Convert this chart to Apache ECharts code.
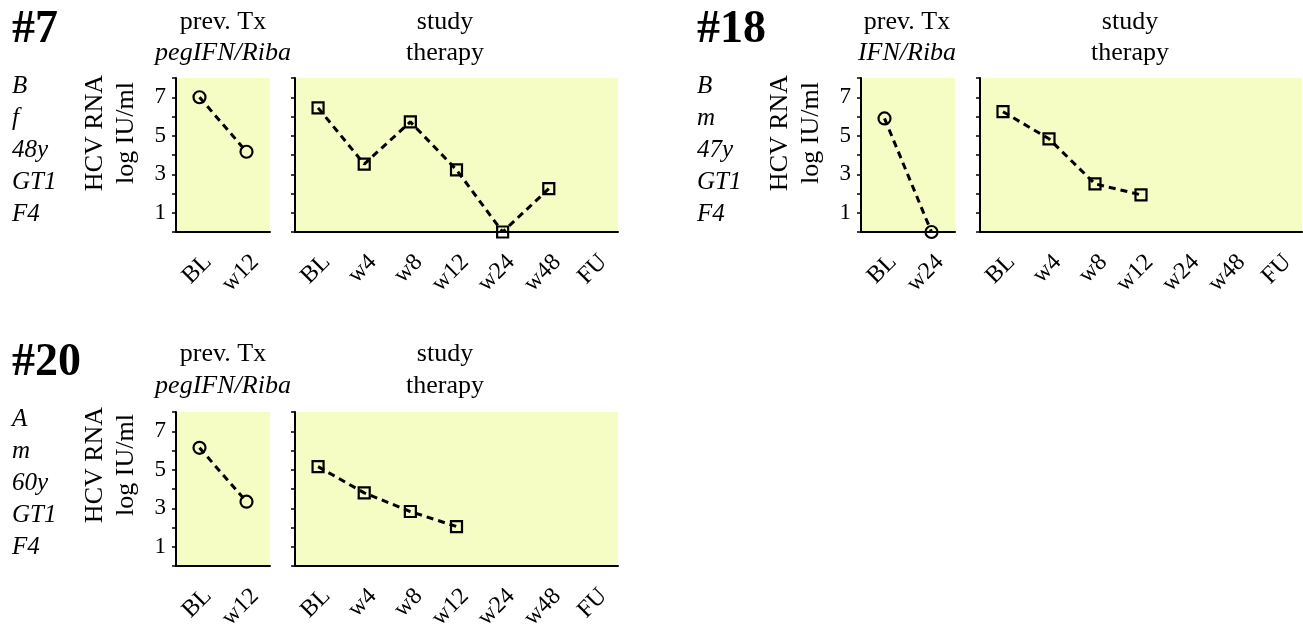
<!DOCTYPE html>
<html>
<head>
<meta charset="utf-8">
<script src="https://cdn.jsdelivr.net/npm/echarts@6/dist/echarts.min.js"></script>
<style>
html,body{margin:0;padding:0;background:#fff;}
#chart{width:1303px;height:624px;}
</style>
</head>
<body>
<div id="chart"></div>
<script>
// ---- data ----
const prevCats7 = ['BL', 'w12'];
const prevCats18 = ['BL', 'w24'];
const prevCats20 = ['BL', 'w12'];
const studyCats = ['BL', 'w4', 'w8', 'w12', 'w24', 'w48', 'FU'];

const prev7 = [7.0, 4.17];
const study7 = [6.45, 3.53, 5.72, 3.23, 0, 2.25, null];
const prev18 = [5.9, 0];
const study18 = [6.25, 4.84, 2.5, 1.93, null, null, null];
const prev20 = [6.14, 3.34];
const study20 = [5.16, 3.8, 2.83, 2.05, null, null, null];

const yTickLabels = ['1', '3', '5', '7'];

const patientIds = ['#7', '#18', '#20'];
const patientInfo = [
  ['B', 'f', '48y', 'GT1', 'F4'],
  ['B', 'm', '47y', 'GT1', 'F4'],
  ['A', 'm', '60y', 'GT1', 'F4']
];
const prevTxNames = ['pegIFN/Riba', 'IFN/Riba', 'pegIFN/Riba'];

// ---- layout ----
const FONT = "'Liberation Serif', 'Times New Roman', serif";
const BG = '#F5FCC4';
const panels = [
  {left: 176, top: 78, width: 94, height: 154, cats: prevCats7, data: prev7, sym: 'circle', lab: true},
  {left: 295, top: 78, width: 323, height: 154, cats: studyCats, data: study7, sym: 'rect', lab: false},
  {left: 861, top: 78, width: 94, height: 154, cats: prevCats18, data: prev18, sym: 'circle', lab: true},
  {left: 980, top: 78, width: 322, height: 154, cats: studyCats, data: study18, sym: 'rect', lab: false},
  {left: 176, top: 412, width: 94, height: 154, cats: prevCats20, data: prev20, sym: 'circle', lab: true},
  {left: 295, top: 412, width: 323, height: 154, cats: studyCats, data: study20, sym: 'rect', lab: false}
];

const grid = panels.map(p => ({
  left: p.left, top: p.top, width: p.width, height: p.height,
  show: true, backgroundColor: BG, borderWidth: 0,
  containLabel: false, outerBoundsMode: 'none'
}));

const xAxis = panels.map((p, i) => ({
  type: 'category', gridIndex: i, data: p.cats, boundaryGap: true,
  axisLine: {lineStyle: {color: '#000', width: 2}},
  axisTick: {alignWithLabel: true, length: 5, lineStyle: {color: '#000', width: 1.5}},
  axisLabel: {interval: 0, rotate: 45, margin: 18, verticalAlign: 'top', color: '#000', fontFamily: FONT, fontSize: 24}
}));

const yAxis = panels.map((p, i) => ({
  type: 'value', gridIndex: i, min: 0, max: 8, interval: 1,
  splitLine: {show: false},
  axisLine: {show: true, lineStyle: {color: '#000', width: 2}},
  axisTick: {show: true, length: 4, lineStyle: {color: '#000', width: 1.5}},
  axisLabel: {
    show: p.lab, margin: 10, color: '#000', fontFamily: FONT, fontSize: 23,
    formatter: v => (yTickLabels.indexOf(String(v)) >= 0 ? String(v) : '')
  }
}));

const series = panels.map((p, i) => ({
  type: 'line', xAxisIndex: i, yAxisIndex: i, data: p.data,
  symbol: p.sym, symbolSize: p.sym === 'circle' ? 12 : 11,
  clip: false, connectNulls: false,
  lineStyle: {color: '#000', width: 3, type: [7, 5]},
  itemStyle: {color: 'rgba(0,0,0,0)', borderColor: '#000', borderWidth: 2.2}
}));

// ---- text ----
const graphic = [];
function txt(x, y, s, font, align) {
  graphic.push({type: 'text', x: x, y: y,
    style: {text: s, fill: '#000', font: font, textAlign: align || 'center', textVerticalAlign: 'middle'}});
}
function rotTxt(x, y, s, size) {
  graphic.push({type: 'text', x: x, y: y, rotation: Math.PI / 2,
    style: {text: s, fill: '#000', font: size + 'px ' + FONT, textAlign: 'center', textVerticalAlign: 'middle'}});
}
const rows = [
  {idX: 12, idY: 30, titleY1: 22, titleY2: 53, infoX: 12, infoY0: 86, axX: 95, axX2: 126, axY: 133, prevX: 223, studyX: 445},
  {idX: 697, idY: 30, titleY1: 22, titleY2: 53, infoX: 697, infoY0: 86, axX: 780, axX2: 811, axY: 133, prevX: 907, studyX: 1130},
  {idX: 12, idY: 363, titleY1: 354, titleY2: 386, infoX: 12, infoY0: 419, axX: 95, axX2: 126, axY: 465, prevX: 223, studyX: 445}
];
rows.forEach((r, k) => {
  txt(r.idX, r.idY, patientIds[k], 'bold 46px ' + FONT, 'left');
  patientInfo[k].forEach((s, j) => {
    txt(r.infoX, r.infoY0 + j * 32.2, s, 'italic 25px ' + FONT, 'left');
  });
  rotTxt(r.axX, r.axY, 'HCV RNA', 26);
  rotTxt(r.axX2, r.axY, 'log IU/ml', 26);
  txt(r.prevX, r.titleY1, 'prev. Tx', '26px ' + FONT);
  txt(r.prevX, r.titleY2, prevTxNames[k], 'italic 26px ' + FONT);
  txt(r.studyX, r.titleY1, 'study', '26px ' + FONT);
  txt(r.studyX, r.titleY2, 'therapy', '26px ' + FONT);
});

const chart = echarts.init(document.getElementById('chart'), null, {renderer: 'canvas'});
chart.setOption({animation: false, backgroundColor: '#fff', grid, xAxis, yAxis, series, graphic});
</script>
</body>
</html>
